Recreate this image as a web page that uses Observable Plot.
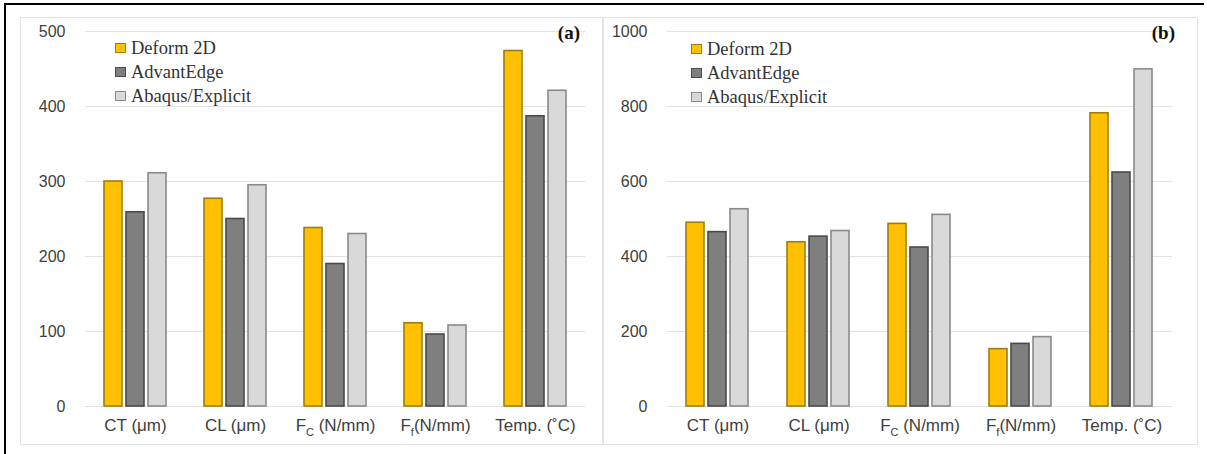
<!DOCTYPE html>
<html>
<head>
<meta charset="utf-8">
<script src="https://cdn.jsdelivr.net/npm/d3@7"></script>
<script src="https://cdn.jsdelivr.net/npm/@observablehq/plot@0.6"></script>
<style>
  html, body { margin: 0; padding: 0; background: #fff; }
  #page { position: relative; width: 1207px; height: 454px; overflow: hidden; background: #fff; }
  .frame-top { position: absolute; left: 4px; top: 3px; width: 1200px; height: 2px; background: #000; }
  .frame-left { position: absolute; left: 4px; top: 3px; width: 2px; height: 460px; background: #000; }
  .panel { position: absolute; top: 17px; height: 428px; box-sizing: border-box; border: 1px solid #e3e3e3; background: #fff; }
  .chart { position: absolute; top: 17px; }
  .legend { position: absolute; font-family: "Liberation Serif", "DejaVu Serif", serif; font-size: 18.5px; color: #333; line-height: 24px; }
  .legend .item { display: flex; align-items: center; height: 24px; white-space: nowrap; }
  .legend .sw { width: 9px; height: 8px; border: 1.5px solid; margin-right: 5px; }
  .tag { position: absolute; font-family: "Liberation Serif", "DejaVu Serif", serif; font-weight: bold; font-size: 19px; color: #111; }
</style>
</head>
<body>
<div id="page">
  <div class="frame-top"></div>
  <div class="frame-left"></div>
</div>
<script>
// Machining outputs compared across three FE codes
const categories = ["CT (μm)", "CL (μm)", "FC (N/mm)", "Ff(N/mm)", "Temp. (˚C)"];
const series = ["Deform 2D", "AdvantEdge", "Abaqus/Explicit"];

// panel (a)
const deformA = [300, 277, 238, 111, 474];
const advantA = [259, 250, 190, 96, 387];
const abaqusA = [311, 295, 230, 108, 421];
const ticksA = [0, 100, 200, 300, 400, 500];

// panel (b)
const deformB = [490, 438, 487, 153, 782];
const advantB = [465, 453, 424, 167, 624];
const abaqusB = [526, 468, 511, 185, 899];
const ticksB = [0, 200, 400, 600, 800, 1000];

const fills = ["#FFC000", "#7F7F7F", "#D9D9D9"];
const strokes = ["#9E7D10", "#4A4A4A", "#8A8A8A"];

const page = document.getElementById("page");

function tableOf(lists) {
  const rows = [];
  categories.forEach((c, i) => {
    series.forEach((s, j) => rows.push({category: c, series: s, value: lists[j][i]}));
  });
  return rows;
}

// Subscripted force labels: F_C and F_f
function subscriptLabels(svg) {
  svg.querySelectorAll('[aria-label="fx-axis tick label"] text').forEach(t => {
    const s = t.textContent;
    const m = /^F([A-Za-z])(.*)$/.exec(s);
    if (!m) return;
    t.textContent = "";
    const ns = "http://www.w3.org/2000/svg";
    const a = document.createElementNS(ns, "tspan"); a.textContent = "F";
    const b = document.createElementNS(ns, "tspan"); b.textContent = m[1];
    b.setAttribute("dy", "5"); b.setAttribute("font-size", "11");
    const c = document.createElementNS(ns, "tspan"); c.textContent = m[2];
    c.setAttribute("dy", "-5");
    t.append(a, b, c);
  });
}

function panel({left, width, marginLeft, marginRight, lists, ticks, tag, tagRight, legendLeft, legendTop}) {
  const box = document.createElement("div");
  box.className = "panel";
  box.style.left = left + "px";
  box.style.width = width + "px";
  page.appendChild(box);

  const rows = tableOf(lists);
  const chart = Plot.plot({
    width, height: 428,
    marginLeft, marginRight, marginTop: 14, marginBottom: 39,
    style: {background: "transparent", fontFamily: "Liberation Sans, Arial, sans-serif", overflow: "visible"},
    fx: {domain: categories, padding: 0, label: null},
    x: {domain: series, axis: null, paddingInner: 0.18, paddingOuter: 0.83},
    y: {domain: [0, ticks[ticks.length - 1]], axis: null},
    marks: [
      Plot.ruleY(ticks, {stroke: "#e2e2e2", strokeWidth: 1}),
      ...series.map((s, j) => Plot.barY(rows.filter(d => d.series === s), {
        fx: "category", x: "series", y: "value",
        fill: fills[j], stroke: strokes[j], strokeWidth: 1.6
      })),
      Plot.axisY({ticks, tickFormat: d3.format("d"), tickSize: 0, tickPadding: 20, fontSize: 16, fill: "#404040", label: null}),
      Plot.axisFx({anchor: "bottom", tickSize: 0, tickPadding: 12, fontSize: 17, fill: "#404040", label: null})
    ]
  });
  chart.classList.add("chart");
  chart.style.position = "absolute";
  chart.style.left = left + "px";
  chart.style.top = "17px";
  subscriptLabels(chart);
  page.appendChild(chart);

  const legend = document.createElement("div");
  legend.className = "legend";
  legend.style.left = legendLeft + "px";
  legend.style.top = legendTop + "px";
  series.forEach((s, j) => {
    const item = document.createElement("div");
    item.className = "item";
    const sw = document.createElement("span");
    sw.className = "sw";
    sw.style.background = fills[j];
    sw.style.borderColor = strokes[j];
    const label = document.createElement("span");
    label.textContent = s;
    item.append(sw, label);
    legend.appendChild(item);
  });
  page.appendChild(legend);

  const t = document.createElement("div");
  t.className = "tag";
  t.textContent = tag;
  t.style.right = (1207 - tagRight) + "px";
  t.style.top = "22px";
  page.appendChild(t);
}

panel({left: 20, width: 583, marginLeft: 63, marginRight: 16, lists: [deformA, advantA, abaqusA],
       ticks: ticksA, tag: "(a)", tagRight: 580, legendLeft: 115, legendTop: 36});
panel({left: 603, width: 595, marginLeft: 64, marginRight: 26, lists: [deformB, advantB, abaqusB],
       ticks: ticksB, tag: "(b)", tagRight: 1175, legendLeft: 691, legendTop: 37});
</script>
</body>
</html>
